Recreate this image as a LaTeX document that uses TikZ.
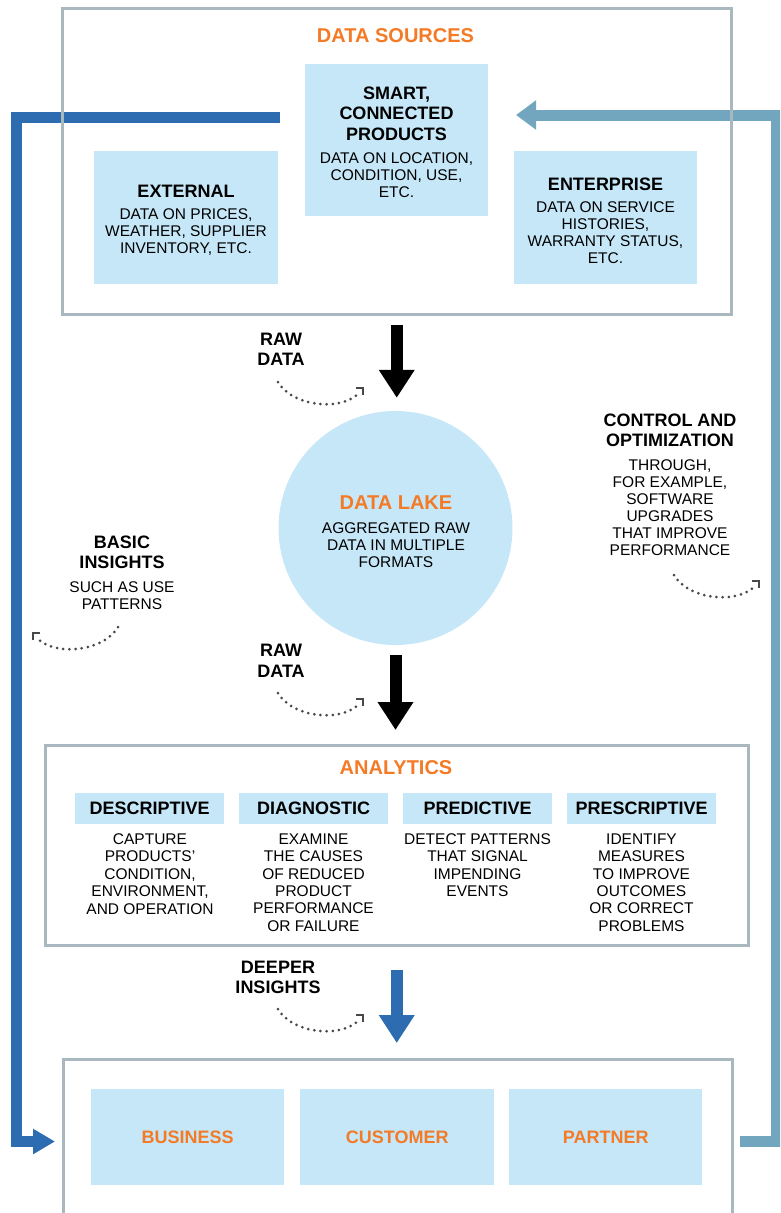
\documentclass[tikz,border=0pt]{standalone}
\usepackage{fontspec}
\setmainfont{Liberation Sans}
\usetikzlibrary{arrows.meta}
\definecolor{hbrorange}{HTML}{F47A25}
\definecolor{lblue}{HTML}{C5E7F8}
\definecolor{dblue}{HTML}{2E6CB1}
\definecolor{sblue}{HTML}{72A6BF}
\definecolor{fgray}{HTML}{A9B7BF}
\definecolor{dotgray}{HTML}{484848}
\newcommand\fsz[2]{\fontsize{#1}{#2}\selectfont}
\tikzset{
  frame/.style={draw=fgray, line width=2.5pt, inner sep=0pt, anchor=north west},
  lbox/.style={fill=lblue, inner sep=0pt, anchor=north west},
  ttl/.style={font=\fsz{18}{20.5}\bfseries, align=center, inner sep=0pt},
  bodytxt/.style={font=\fsz{15.5}{17}, align=center, inner sep=0pt},
  antxt/.style={font=\fsz{15.5}{17.4}, align=center, inner sep=0pt},
  otitle/.style={font=\fsz{20}{23}\bfseries, text=hbrorange, inner sep=0pt},
  lbl/.style={font=\fsz{18}{20.5}\bfseries, align=center, inner sep=0pt},
  hdr/.style={lbox, font=\fsz{18}{20}\bfseries, minimum width=149pt, minimum height=31pt},
  outbox/.style={lbox, font=\fsz{18}{20}\bfseries, text=hbrorange, minimum height=96pt},
  bigarrow/.style={line width=12pt, -{Triangle[length=28pt,width=34pt]}},
  loopline/.style={line width=11pt, line join=miter},
  dotarc/.style={draw=dotgray, line width=3pt, line cap=round, dash pattern=on 0pt off 6.2pt},
  arcmark/.pic={
    \draw[dotarc] (0,0) .. controls (14,24) and (60,29) .. (79,13);
    \draw[dotgray, line width=1.4pt] (78,6) -- (85,6) -- (85,13);
  }
}
\begin{document}
\begin{tikzpicture}[x=1pt,y=-1pt]
\useasboundingbox (0,0) rectangle (780,1213);
\clip (0,0) rectangle (780,1213);

% feedback loops (drawn first, frames go over them)
\coordinate (lstart) at (280,117);
\coordinate (lend) at (55,1141.5);
\draw[loopline, dblue, -{Triangle[length=22pt,width=24pt]}] (lstart) -- (16.5,117) |- (lend);
\coordinate (rstart) at (740,1141);
\coordinate (rend) at (516,115);
\draw[loopline, sblue, -{Triangle[length=20pt,width=28pt]}] (rstart) -- (776,1141) |- (rend);

% data sources
\node[frame, minimum width=669pt, minimum height=306pt] (dsframe) at (61,7) {};
\node[otitle] (dstitle) at (395.5,36) {DATA SOURCES};
\node[lbox, minimum width=183pt, minimum height=152pt] (smart) at (305,64) {};
\node[ttl] (smartT) at (396.5,113.5) {SMART,\\CONNECTED\\PRODUCTS};
\node[bodytxt] (smartB) at (396.5,175) {DATA ON LOCATION,\\CONDITION, USE,\\ETC.};
\node[lbox, minimum width=184pt, minimum height=133pt] (ext) at (94,151) {};
\node[ttl] (extT) at (186,191) {EXTERNAL};
\node[bodytxt] (extB) at (186,232) {DATA ON PRICES,\\WEATHER, SUPPLIER\\INVENTORY, ETC.};
\node[lbox, minimum width=183pt, minimum height=133pt] (ent) at (514,151) {};
\node[ttl] (entT) at (605.5,184) {ENTERPRISE};
\node[bodytxt] (entB) at (605.5,232.5) {DATA ON SERVICE\\HISTORIES,\\WARRANTY STATUS,\\ETC.};

% data lake
\node[circle, fill=lblue, minimum size=234pt, inner sep=0pt] (lake) at (395.5,528) {};
\node[otitle] (lakeT) at (396,503) {DATA LAKE};
\node[bodytxt] (lakeB) at (396,545) {AGGREGATED RAW\\DATA IN MULTIPLE\\FORMATS};

% analytics
\node[frame, minimum width=703pt, minimum height=200pt] (anframe) at (44,744) {};
\node[otitle] (anT) at (396,768) {ANALYTICS};
\node[hdr] (desc) at (75,793) {DESCRIPTIVE};
\node[hdr] (diag) at (239,793) {DIAGNOSTIC};
\node[hdr] (pred) at (403,793) {PREDICTIVE};
\node[hdr] (pres) at (567,793) {PRESCRIPTIVE};
\node[antxt] (descB) at (150,874) {CAPTURE\\PRODUCTS’\\CONDITION,\\ENVIRONMENT,\\AND OPERATION};
\node[antxt] (diagB) at (313.5,882.5) {EXAMINE\\THE CAUSES\\OF REDUCED\\PRODUCT\\PERFORMANCE\\OR FAILURE};
\node[antxt] (predB) at (477.5,865) {DETECT PATTERNS\\THAT SIGNAL\\IMPENDING\\EVENTS};
\node[antxt] (presB) at (641.5,882.5) {IDENTIFY\\MEASURES\\TO IMPROVE\\OUTCOMES\\OR CORRECT\\PROBLEMS};

% outputs
\node[frame, minimum width=669pt, minimum height=220pt] (outframe) at (62,1058) {};
\node[outbox, minimum width=193pt] (biz) at (91,1089) {BUSINESS};
\node[outbox, minimum width=194pt] (cust) at (300,1089) {CUSTOMER};
\node[outbox, minimum width=193pt] (part) at (509,1089) {PARTNER};

% main down arrows
\draw[bigarrow, black, shorten <=9pt, shorten >=13pt] (dsframe.south) -- (dsframe.south |- lake.north);
\draw[bigarrow, black, shorten <=10pt, shorten >=14pt] (lake.south) -- (lake.south |- anframe.north);
\draw[bigarrow, dblue, shorten <=23pt, shorten >=15pt] (anframe.south) -- (anframe.south |- outframe.north);

% labels
\node[lbl] (raw1) at (281,349.5) {RAW\\DATA};
\node[lbl] (raw2) at (281,661) {RAW\\DATA};
\node[lbl] (deeper) at (278,977.5) {DEEPER\\INSIGHTS};
\node[lbl] (basicT) at (122,552.5) {BASIC\\INSIGHTS};
\node[bodytxt] (basicB) at (122,595.5) {SUCH AS USE\\PATTERNS};
\node[lbl] (ctrlT) at (670,430.5) {CONTROL AND\\OPTIMIZATION};
\node[bodytxt] (ctrlB) at (670,507.5) {THROUGH,\\FOR EXAMPLE,\\SOFTWARE\\UPGRADES\\THAT IMPROVE\\PERFORMANCE};

% dotted arcs
\pic (arc1) at (278,382) {arcmark};
\pic (arc2) at (278,693) {arcmark};
\pic (arc3) at (278,1009) {arcmark};
\pic (arc4) at (674,575) {arcmark};
\pic[xscale=-1] (arc5) at (118,627) {arcmark};
\end{tikzpicture}
\end{document}
